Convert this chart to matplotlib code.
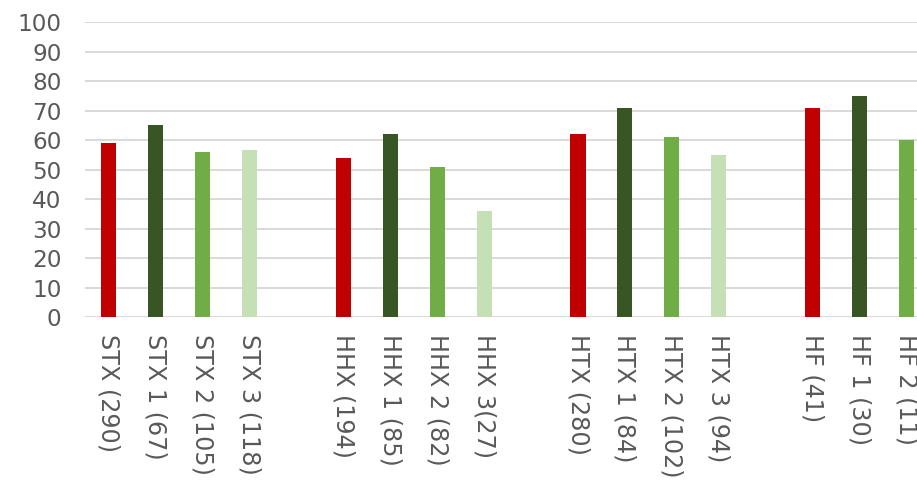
import matplotlib.pyplot as plt

# grupper og værdier
grupper = ["STX", "HHX", "HTX", "HF"]
etiketter = [
    ["STX (290)", "STX 1 (67)", "STX 2 (105)", "STX 3 (118)"],
    ["HHX (194)", "HHX 1 (85)", "HHX 2 (82)", "HHX 3(27)"],
    ["HTX (280)", "HTX 1 (84)", "HTX 2 (102)", "HTX 3 (94)"],
    ["HF (41)", "HF 1 (30)", "HF 2 (11)"],
]
værdier = [
    [59, 65, 56, 56.6],
    [54, 62, 51, 36],
    [62, 71, 61, 55],
    [71, 75, 60],
]
farver = ["#C00000", "#375623", "#70AD47", "#C5E0B4"]

fig = plt.figure(figsize=(9.17, 4.82), dpi=100)
ax = fig.add_axes([0.0927, 0.342, 0.9073, 0.612])

x_pos = []
x_lab = []
for g, (labs, vals) in enumerate(zip(etiketter, værdier)):
    for i, (lab, v) in enumerate(zip(labs, vals)):
        x = g * 5 + i  # en tom plads mellem grupperne
        ax.bar(x, v, width=0.32, color=farver[i], zorder=3)
        x_pos.append(x)
        x_lab.append(lab)

ax.set_xlim(-0.5, 17.22)
ax.set_ylim(0, 100)
ax.set_yticks(range(0, 101, 10))
ax.set_xticks(x_pos)
ax.set_xticklabels(x_lab, rotation=-90, va="top", ha="center")

ax.grid(axis="y", color="#D9D9D9", linewidth=1.4, zorder=0)
ax.grid(axis="x", visible=False)
for s in ax.spines.values():
    s.set_visible(False)

ax.tick_params(axis="both", length=0, labelcolor="#595959")
ax.tick_params(axis="y", pad=17, labelsize=16.7)
ax.tick_params(axis="x", pad=12, labelsize=17.2)

fig.savefig("out.png", dpi=100)
